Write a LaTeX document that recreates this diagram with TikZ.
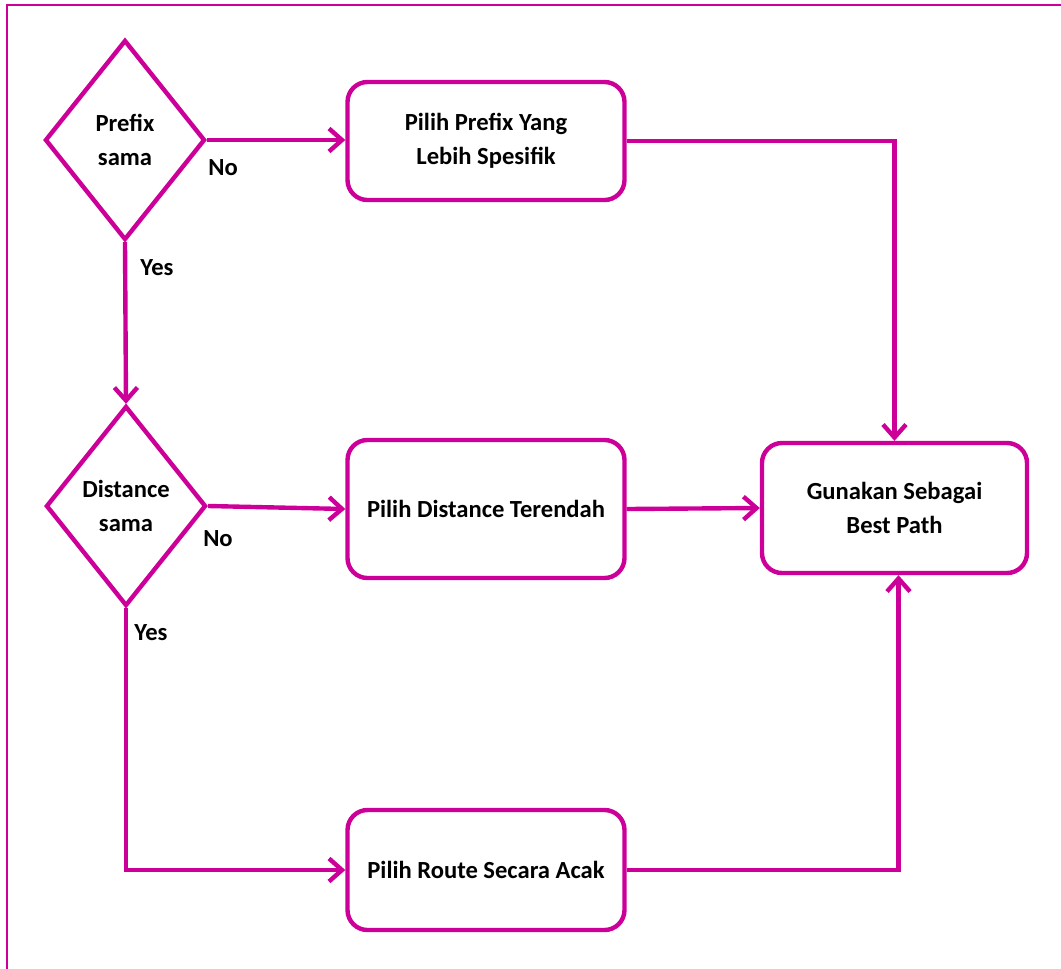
\documentclass[tikz,border=0pt]{standalone}
\usepackage{fontspec}
\setmainfont{Carlito}
\usetikzlibrary{shapes.geometric,arrows.meta}
\definecolor{mag}{RGB}{204,0,153}

\begin{document}
\begin{tikzpicture}[
  font=\bfseries\fontsize{14}{19.2}\selectfont,
  cek/.style={diamond,draw=mag,line width=2.5pt,minimum width=3.2cm,minimum height=4cm,inner sep=0pt,align=center},
  kotak/.style={rectangle,rounded corners=0.4cm,draw=mag,line width=2.5pt,minimum width=5.54cm,align=center},
  panah/.style={draw=mag,line width=2.5pt,-{Straight Barb[length=0.26cm,width=0.46cm]}},
  ket/.style={inner sep=0pt}
]
\useasboundingbox (0,0) rectangle (21.22,-19.36);
\draw[mag,line width=1.1pt] (0.14,-19.5) -- (0.14,-0.1) -- (21.4,-0.1);

\node[cek] (prefix) at (2.5,-2.8) {Prefix\\sama};
\node[cek] (distance) at (2.52,-10.12) {Distance\\sama};
\node[kotak,minimum height=2.36cm] (spesifik) at (9.72,-2.82) {Pilih Prefix Yang\\Lebih Spesifik};
\node[kotak,minimum height=2.76cm] (terendah) at (9.72,-10.18) {Pilih Distance Terendah};
\node[kotak,minimum height=2.4cm] (acak) at (9.72,-17.4) {Pilih Route Secara Acak};
\node[kotak,minimum width=5.3cm,minimum height=2.6cm] (best) at (17.89,-10.16) {Gunakan Sebagai\\Best Path};

\node[ket] (tidak1) at (4.46,-3.36) {No};
\node[ket] (ya1) at (3.14,-5.36) {Yes};
\node[ket] (tidak2) at (4.36,-10.78) {No};
\node[ket] (ya2) at (3.02,-12.66) {Yes};

\draw[panah] (prefix.east) -- (prefix.east -| spesifik.west);
\draw[panah] (prefix.south) -- (distance.north);
\draw[panah] (distance.east) -- (terendah.west);
\draw[panah] (distance.south) |- (acak.west);
\draw[panah] (spesifik.east) -| (best.north);
\draw[panah] (terendah.east) -- (best.west);
\draw[panah] (acak.east) -| ([xshift=0.08cm]best.south);

\end{tikzpicture}
\end{document}
